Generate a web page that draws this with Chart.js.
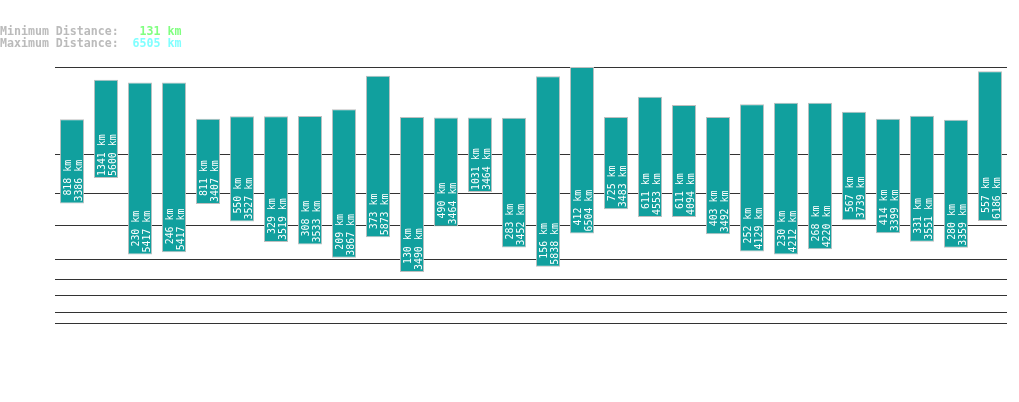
<!DOCTYPE html>
<html>
<head>
<meta charset="utf-8">
<script src="https://cdn.jsdelivr.net/npm/chart.js@4"></script>
<style>
  body { margin: 0; background: #fff; }
  canvas { display: block; }
</style>
</head>
<body>
<canvas id="chart_distance" width="1019" height="402"></canvas>
<script>
// values, one bar per pair
var categories = ["1","2","3","4","5","6","7","8","9","10","11","12","13","14","15","16","17","18","19","20","21","22","23","24","25","26","27","28"];
var minKm = [818, 1341, 230, 246, 811, 550, 329, 308, 209, 373, 130, 490, 1031, 283, 156, 412, 725, 611, 611, 403, 252, 230, 268, 567, 414, 331, 280, 557];
var maxKm = [3386, 5600, 5417, 5417, 3407, 3527, 3519, 3533, 3867, 5873, 3490, 3464, 3464, 3452, 5838, 6504, 3483, 4553, 4094, 3492, 4129, 4212, 4220, 3739, 3399, 3551, 3359, 6186];
var gridKm = [10, 20, 50, 100, 200, 500, 1000, 2000, 6505];
var minDistance = 131;
var maxDistance = 6505;

var POW = 0.29;

// y axis is a power scale (v^0.29)
class PowerScale extends Chart.LinearScale {
  static id = "power";
  static defaults = {};
  buildTicks() {
    return gridKm.map(function(v){ return { value: v }; });
  }
  getPixelForValue(v) {
    var a = Math.pow(this.min, POW), b = Math.pow(this.max, POW);
    return this.getPixelForDecimal((Math.pow(Math.max(v, 0), POW) - a) / (b - a));
  }
  getValueForPixel(px) {
    var a = Math.pow(this.min, POW), b = Math.pow(this.max, POW);
    return Math.pow(a + this.getDecimalForPixel(px) * (b - a), 1 / POW);
  }
}
Chart.register(PowerScale);

var mono = "'DejaVu Sans Mono', monospace";

// header text top left
const headerPlugin = {
  id: "header",
  afterDraw(chart) {
    const ctx = chart.ctx;
    ctx.save();
    ctx.font = "bold 11.6px " + mono;
    ctx.textBaseline = "alphabetic";
    ctx.textAlign = "left";
    var rows = [
      ["Minimum Distance:", "   " + minDistance + " km", "#80ff80", 35],
      ["Maximum Distance:", "  " + maxDistance + " km", "#80ffff", 47]
    ];
    rows.forEach(function(r){
      ctx.fillStyle = "#bbbbbb";
      ctx.fillText(r[0], 0, r[3]);
      var w = ctx.measureText(r[0]).width;
      ctx.fillStyle = r[2];
      ctx.fillText(r[1], w, r[3]);
    });
    ctx.restore();
  }
};

// rotated km labels inside each bar
const barLabels = {
  id: "barLabels",
  afterDatasetsDraw(chart) {
    const ctx = chart.ctx;
    const meta = chart.getDatasetMeta(0);
    ctx.save();
    ctx.font = "11px " + mono;
    ctx.fillStyle = "#ffffff";
    ctx.textBaseline = "alphabetic";
    ctx.textAlign = "right";
    meta.data.forEach(function(bar, i){
      var lines = [minKm[i] + " km", maxKm[i] + " km"];
      var sx = 0.9;
      var maxW = Math.max.apply(null, lines.map(function(t){ return ctx.measureText(t).width; })) * sx;
      var bottom = Math.max(bar.y, bar.base);
      var offs = [-1.5, 9.8];
      ctx.save();
      ctx.translate(bar.x, bottom);
      ctx.rotate(-Math.PI / 2);
      lines.forEach(function(t, k){
        ctx.save();
        ctx.translate(2 + maxW, offs[k]);
        ctx.scale(sx, 1);
        ctx.fillText(t, 0, 0);
        ctx.restore();
      });
      ctx.restore();
    });
    ctx.restore();
  }
};

const ctx1 = document.getElementById("chart_distance").getContext("2d");
Chart_distance = new Chart(ctx1, {
  type: "bar",
  data: {
    labels: categories,
    datasets: [
      {
        data: minKm.map(function(m, i){ return [m, maxKm[i]]; }),
        backgroundColor: "#11a09e",
        borderColor: "#bfbfbf",
        borderWidth: 1,
        borderSkipped: false,
        categoryPercentage: 1,
        barPercentage: 0.71,
      },
    ],
  },
  options: {
    responsive: false,
    animation: false,
    layout: { padding: { left: 55, right: 12, top: 67, bottom: 79 } },
    plugins: { legend: { display: false }, tooltip: { enabled: false } },
    scales: {
      x: { display: false },
      y: {
        type: "power",
        min: 10,
        max: 6505,
        ticks: { display: false },
        border: { display: false },
        grid: { color: "#333333", lineWidth: 1, drawTicks: false },
        afterFit: function(s){ s.width = 0; },
      },
    },
  },
  plugins: [headerPlugin, barLabels],
});
</script>
</body>
</html>
